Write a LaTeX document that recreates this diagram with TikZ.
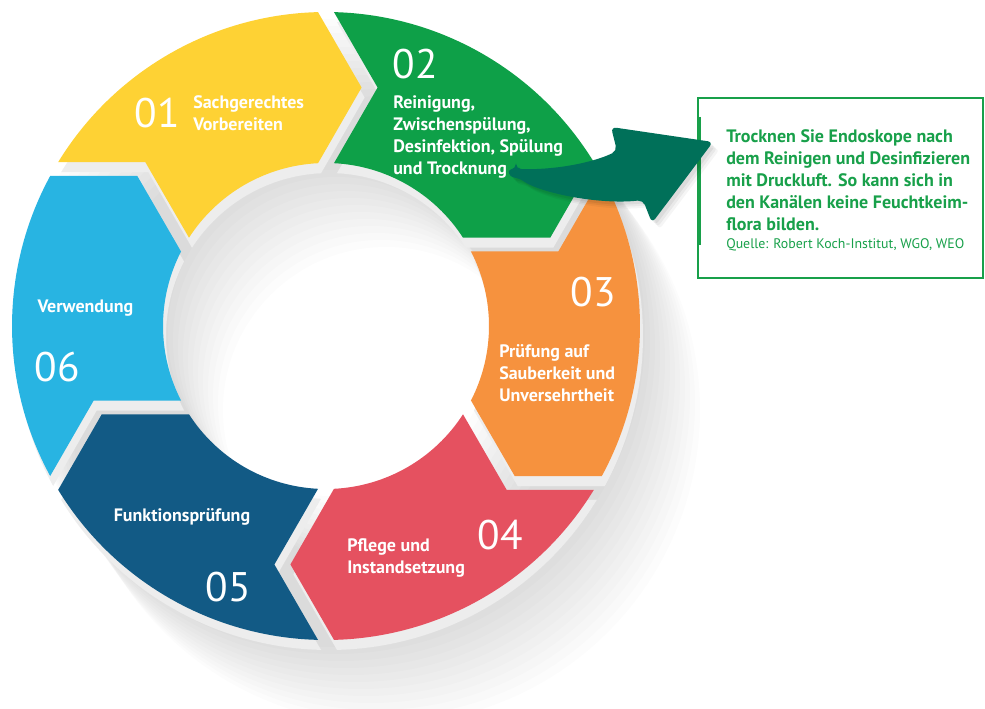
\documentclass[tikz,border=0pt]{standalone}
\usepackage{fontspec}
\setmainfont{PT Sans}
\setsansfont{PT Sans}
\usetikzlibrary{calc}

\definecolor{segyellow}{RGB}{254,210,52}
\definecolor{seggreen}{RGB}{14,160,72}
\definecolor{segorange}{RGB}{246,146,62}
\definecolor{segred}{RGB}{229,81,96}
\definecolor{segnavy}{RGB}{18,90,133}
\definecolor{segsky}{RGB}{40,180,226}
\definecolor{arrowgreen}{RGB}{0,112,89}
\definecolor{boxgreen}{RGB}{24,160,74}

\newcommand\arrowshape{(516,539) .. controls (555,538) and (592,545) .. (617,557)
    -- (611,581) -- (713,566) -- (652,485) -- (643,508)
    .. controls (600,503) and (540,515) .. (519,530)
    .. controls (509,531) and (507,538) .. (516,539) -- cycle}

\begin{document}
\begin{tikzpicture}[x=0.75pt, y=0.75pt,
    every node/.append style={font=\sffamily},
    numtext/.style={text=white, inner sep=0pt, font=\fontsize{31}{31}\selectfont},
    steptext/.style={text=white, inner sep=0pt, align=left, font=\bfseries\fontsize{13.5}{16.5}\selectfont},
    hinttext/.style={text=boxgreen, inner sep=0pt, align=left, anchor=west},
    ringpart/.pic={
        \fill (#1-2.8:163) -- (#1-12.21:244) -- (#1-1.46:314)
            arc[start angle=#1-1.46, end angle=#1-58.54, radius=314]
            -- (#1-68.49:241.1) -- (#1-57.2:163)
            arc[start angle=#1-57.2, end angle=#1-2.8, radius=163] -- cycle;
    }]
    \useasboundingbox (0,0) rectangle (985,708);
    \coordinate (O) at (326,382);

    % soft shadow of the ring
    \foreach \s in {1,...,12}
        \fill[black, opacity=0.011, even odd rule] ($(O)+(5*\s,-7*\s)$) circle (314) circle (163);

    % ring parts
    \foreach \ta in {150,90,30,-30,-90,-150}
        \pic[fill=gray!14] at (329,372) {ringpart=\ta};
    \foreach \ta/\col in {150/segyellow, 90/seggreen, 30/segorange, -30/segred, -90/segnavy, -150/segsky}
        \pic[fill=\col] at (O) {ringpart=\ta};

    \node[numtext] (n01) at (157,595) {01};
    \node[steptext, anchor=west] (s01) at (193,595) {Sachgerechtes\\Vorbereiten};
    \node[numtext] (n02) at (415,644) {02};
    \node[steptext, anchor=west] (s02) at (393,571) {Reinigung,\\Zwischensp\"ulung,\\Desinfektion, Sp\"ulung\\und Trocknung};
    \node[numtext] (n03) at (593,416) {03};
    \node[steptext, anchor=west] (s03) at (499,334.5) {Pr\"ufung auf\\Sauberkeit und\\Unversehrtheit};
    \node[numtext] (n04) at (500,173) {04};
    \node[steptext, anchor=west] (s04) at (347,150.5) {Pflege und\\Instandsetzung};
    \node[numtext] (n05) at (228,121) {05};
    \node[steptext] (s05) at (182,191) {Funktionspr\"ufung};
    \node[numtext] (n06) at (57,341) {06};
    \node[steptext] (s06) at (85.5,400) {Verwendung};

    % hint box
    \draw[boxgreen, line width=1.5pt] (698,610) rectangle (983,430);
    \draw[boxgreen, line width=3.5pt] (699,591) -- (699,463);
    \node[hinttext, font=\bfseries\fontsize{13.5}{16.5}\selectfont] (hint) at (726,528)
        {Trocknen Sie Endoskope nach\\dem Reinigen und Desinfizieren\\mit Druckluft. So kann sich in\\den Kan\"alen keine Feuchtkeim-\\flora bilden.};
    \node[hinttext, font=\fontsize{10.4}{12}\selectfont] (source) at (726,463) {Quelle: Robert Koch-Institut, WGO, WEO};

    % arrow
    \foreach \d/\o in {7/0.04, 5/0.05, 3/0.06}
        \fill[black, opacity=\o, rounded corners=4, shift={(\d,-\d)}] \arrowshape;
    \fill[arrowgreen, rounded corners=4] \arrowshape;
\end{tikzpicture}
\end{document}
